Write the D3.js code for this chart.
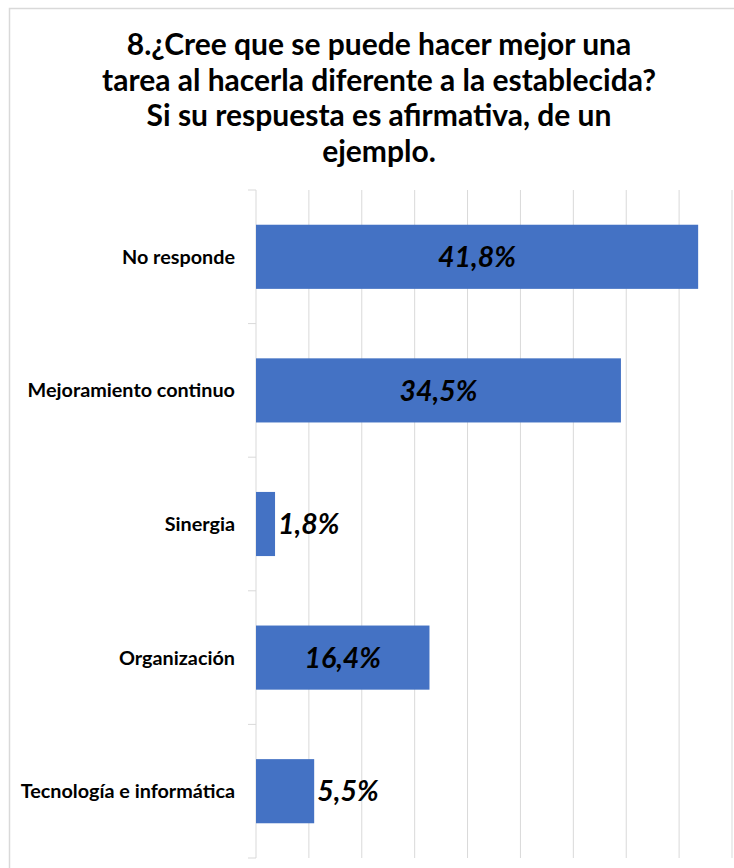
<!DOCTYPE html>
<html>
<head>
<meta charset="utf-8">
<script src="https://cdn.jsdelivr.net/npm/d3@7"></script>
<style>
  html, body { margin: 0; padding: 0; background: #fff; }
  svg { display: block; }
</style>
</head>
<body>
<svg id="chart" width="734" height="868"></svg>
<script>
// Survey question 8 — answers as percentage of respondents
const titleLines = [
  "8.¿Cree que se puede hacer mejor una",
  "tarea al hacerla diferente a la establecida?",
  "Si su respuesta es afirmativa, de un",
  "ejemplo."
];
const categories = [
  "No responde",
  "Mejoramiento continuo",
  "Sinergia",
  "Organización",
  "Tecnología e informática"
];
const values = [41.8, 34.5, 1.8, 16.4, 5.5];
const valueLabels = ["41,8%", "34,5%", "1,8%", "16,4%", "5,5%"];
const gridTicks = [0, 5, 10, 15, 20, 25, 30, 35, 40, 45];

const svg = d3.select("#chart");
const W = 734, H = 868;
const plot = { left: 256, right: 732, top: 190, bottom: 858 };
const fontFamily = "Lato, 'Open Sans', sans-serif";

// chart area frame
svg.append("rect")
  .attr("x", 9.5).attr("y", 8.5)
  .attr("width", W + 10).attr("height", H + 10)
  .attr("fill", "#fff")
  .attr("stroke", "#d9d9d9").attr("stroke-width", 1.5);

// title
const title = svg.append("text")
  .attr("text-anchor", "middle")
  .attr("font-family", fontFamily)
  .attr("font-weight", "bold")
  .attr("font-size", 30)
  .attr("fill", "#000");
titleLines.forEach((line, i) => {
  title.append("tspan")
    .attr("x", 379)
    .attr("y", 55 + i * 35.7)
    .text(line);
});

const x = d3.scaleLinear().domain([0, 45]).range([plot.left, plot.right]);
const y = d3.scaleBand().domain(categories).range([plot.top, plot.bottom]).paddingInner(0.52).paddingOuter(0.26);

// vertical gridlines
svg.append("g")
  .selectAll("line")
  .data(gridTicks.slice(1))
  .join("line")
  .attr("x1", d => x(d)).attr("x2", d => x(d))
  .attr("y1", plot.top).attr("y2", plot.bottom)
  .attr("stroke", "#d9d9d9").attr("stroke-width", 1);

// category axis with boundary tick marks
const axisG = svg.append("g");
axisG.append("line")
  .attr("x1", plot.left).attr("x2", plot.left)
  .attr("y1", plot.top).attr("y2", plot.bottom)
  .attr("stroke", "#d9d9d9").attr("stroke-width", 1);
const step = (plot.bottom - plot.top) / categories.length;
axisG.selectAll("line.tick")
  .data(d3.range(categories.length + 1))
  .join("line")
  .attr("class", "tick")
  .attr("x1", plot.left - 8).attr("x2", plot.left)
  .attr("y1", i => plot.top + i * step).attr("y2", i => plot.top + i * step)
  .attr("stroke", "#d9d9d9").attr("stroke-width", 1);

axisG.selectAll("text")
  .data(categories)
  .join("text")
  .attr("x", 235)
  .attr("y", d => y(d) + y.bandwidth() / 2)
  .attr("dy", "0.35em")
  .attr("text-anchor", "end")
  .attr("font-family", fontFamily)
  .attr("font-weight", "bold")
  .attr("font-size", 19.8)
  .attr("fill", "#000")
  .text(d => d);

// bars
const data = categories.map((c, i) => ({ c, v: values[i], label: valueLabels[i] }));
svg.append("g")
  .selectAll("rect")
  .data(data)
  .join("rect")
  .attr("x", x(0))
  .attr("y", d => y(d.c))
  .attr("width", d => x(d.v) - x(0))
  .attr("height", y.bandwidth())
  .attr("fill", "#4472c4");

// value labels: centered inside wide bars, just outside narrow ones
svg.append("g")
  .selectAll("text")
  .data(data)
  .join("text")
  .attr("x", d => d.v > 10 ? (x(0) + x(d.v)) / 2 : x(d.v) + 3)
  .attr("y", d => y(d.c) + y.bandwidth() / 2)
  .attr("dy", "0.36em")
  .attr("text-anchor", d => d.v > 10 ? "middle" : "start")
  .attr("font-family", fontFamily)
  .attr("font-weight", "bold")
  .attr("font-style", "italic")
  .attr("font-size", 28.5)
  .attr("fill", "#000")
  .text(d => d.label);
</script>
</body>
</html>
